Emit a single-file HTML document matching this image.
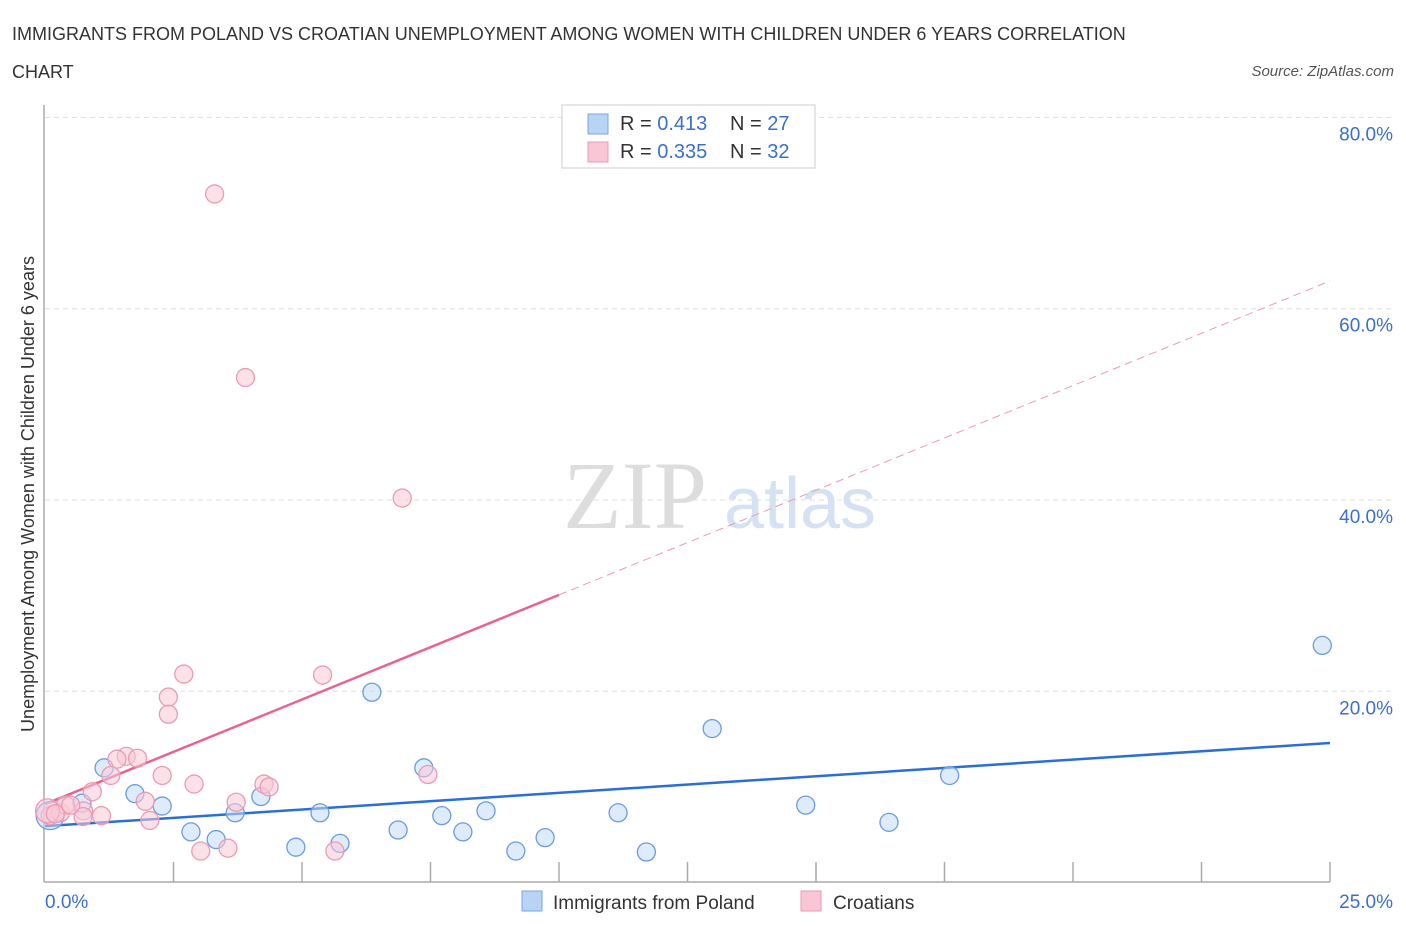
<!DOCTYPE html>
<html><head><meta charset="utf-8"><style>
body{margin:0;background:#fff;font-family:"Liberation Sans",sans-serif;}
</style></head><body>
<svg id="c" width="1406" height="930" xmlns="http://www.w3.org/2000/svg" style="font-family:'Liberation Sans',sans-serif">
<text x="12" y="40" font-size="18" fill="#333">IMMIGRANTS FROM POLAND VS CROATIAN UNEMPLOYMENT AMONG WOMEN WITH CHILDREN UNDER 6 YEARS CORRELATION</text>
<text x="12" y="78" font-size="18" fill="#333">CHART</text>
<text x="1394" y="76" font-size="15" fill="#555" font-style="italic" text-anchor="end">Source: ZipAtlas.com</text>
<text x="635" y="528" font-size="96" fill="#ddd" font-family="Liberation Serif,serif" text-anchor="middle">ZIP</text>
<text x="800" y="528" font-size="72" fill="#d4e2f4" text-anchor="middle">atlas</text>
<text transform="translate(34,494) rotate(-90)" font-size="18" fill="#333" text-anchor="middle">Unemployment Among Women with Children Under 6 years</text>
<g id="grid"></g><g id="axes"></g><g id="lines"></g><g id="pts"></g>
<g>
<rect x="562" y="105" width="253" height="63" fill="#fff" stroke="#ccc"/>
<rect x="588" y="114" width="20" height="20" fill="#b9d3f5" stroke="#7aa5e0"/>
<rect x="588" y="142" width="20" height="20" fill="#f9c6d5" stroke="#eb9ab3"/>
<text x="620" y="130" font-size="20" fill="#333">R = <tspan fill="#3a6fd0">0.413</tspan></text>
<text x="730" y="130" font-size="20" fill="#333">N = <tspan fill="#3a6fd0">27</tspan></text>
<text x="620" y="158" font-size="20" fill="#333">R = <tspan fill="#3a6fd0">0.335</tspan></text>
<text x="730" y="158" font-size="20" fill="#333">N = <tspan fill="#3a6fd0">32</tspan></text>
</g>
<g>
<rect x="522" y="891" width="20" height="20" fill="#b9d3f5" stroke="#7aa5e0"/>
<text x="553" y="909" font-size="19" fill="#333">Immigrants from Poland</text>
<rect x="801" y="891" width="20" height="20" fill="#f9c6d5" stroke="#eb9ab3"/>
<text x="833" y="909" font-size="19" fill="#333">Croatians</text>
</g>
</svg>
<script>
const yTicks=[20,40,60,80];
const yTickLabels=["20.0%","40.0%","60.0%","80.0%"];
const xTicks=[2.5,5,7.5,10,12.5,15,17.5,20,22.5,25];
const polandX=[0.1,0.72,1.15,1.75,2.28,2.84,3.33,3.7,4.2,4.88,5.35,5.74,6.36,6.87,7.37,7.72,8.13,8.58,9.16,9.73,11.15,11.7,12.98,14.8,16.42,17.6,24.85];
const polandY=[7.0,8.3,12.0,9.3,8.0,5.3,4.5,7.3,9.0,3.7,7.3,4.1,19.9,5.5,12.0,7.0,5.3,7.5,3.3,4.7,7.3,3.2,16.1,8.1,6.3,11.2,24.8];
const croatX=[0.1,0.3,0.75,0.4,0.05,2.4,3.3,3.9,6.95,5.4,1.58,1.8,2.7,2.4,1.4,2.28,2.9,1.28,0.92,1.95,4.26,4.36,3.72,7.45,1.1,0.74,0.2,0.5,2.04,3.03,3.56,5.64];
const croatY=[7.0,7.3,7.5,8.1,7.5,19.4,72.0,52.8,40.2,21.7,13.2,13.0,21.8,17.6,12.9,11.2,10.3,11.2,9.5,8.5,10.3,10.0,8.4,11.3,7.0,6.9,7.2,8.1,6.5,3.3,3.6,3.3];
const polandTrend=[5.9,14.6];
const croatTrend=[8.2,62.9];
const croatSolidEnd=10;
const NS="http://www.w3.org/2000/svg";
const X=v=>45+v/25*1285, Y=v=>882.6-v*9.565;
function mk(t,a,p){const e=document.createElementNS(NS,t);for(const k in a)e.setAttribute(k,a[k]);p.appendChild(e);return e;}
const grid=document.getElementById('grid'),axes=document.getElementById('axes'),lines=document.getElementById('lines'),pts=document.getElementById('pts');
yTicks.forEach((t,i)=>{
 const l=mk('line',{x1:45,x2:1393,y1:Y(t),y2:Y(t),stroke:'#ddd','stroke-dasharray':'5,4'},grid);
 
 
 const tx=mk('text',{x:1393,y:Y(t)+23,'font-size':19,fill:'#3a6fd0','text-anchor':'end'},grid);
 tx.textContent=yTickLabels[i];
 
 
});
const xa=mk('line',{x1:44,x2:1330,y1:882,y2:882,stroke:'#aaa','stroke-width':1.5},axes);


const ya=mk('line',{x1:44,x2:44,y1:105,y2:882,stroke:'#aaa','stroke-width':1.5},axes);


xTicks.forEach(t=>{const l=mk('line',{x1:X(t),x2:X(t),y1:862,y2:882,stroke:'#aaa','stroke-width':1.5},axes);
 
 });
const x0=mk('text',{x:45,y:908,'font-size':19,fill:'#3a6fd0'},axes);x0.textContent='0.0%';


const x1=mk('text',{x:1393,y:908,'font-size':19,fill:'#3a6fd0','text-anchor':'end'},axes);x1.textContent='25.0%';


function dot(x,y,fill,stroke,name,r){const c=mk('circle',{cx:X(x),cy:Y(y),r:r,fill:fill,'fill-opacity':0.55,stroke:stroke,'stroke-width':1.3},pts);
 
 }
polandX.forEach((x,i)=>dot(x,polandY[i],'#c3daf6','#6b9be0','poland-point',i==0?14:9));
croatX.forEach((x,i)=>dot(x,croatY[i],'#f9c9d7','#eb9ab3','croatian-point',i==4?12:9));
const bl=mk('line',{x1:X(0),y1:Y(polandTrend[0]),x2:X(25),y2:Y(polandTrend[1]),stroke:'#2a6fd6','stroke-width':2.5},lines);


const ce=croatTrend[0]+(croatTrend[1]-croatTrend[0])*croatSolidEnd/25;
const pl=mk('line',{x1:X(0),y1:Y(croatTrend[0]),x2:X(croatSolidEnd),y2:Y(ce),stroke:'#e8648f','stroke-width':2.5},lines);


const pd=mk('line',{x1:X(croatSolidEnd),y1:Y(ce),x2:X(25),y2:Y(croatTrend[1]),stroke:'#eb9ab3','stroke-width':1,'stroke-dasharray':'8,5'},lines);


</script>
</body></html>
